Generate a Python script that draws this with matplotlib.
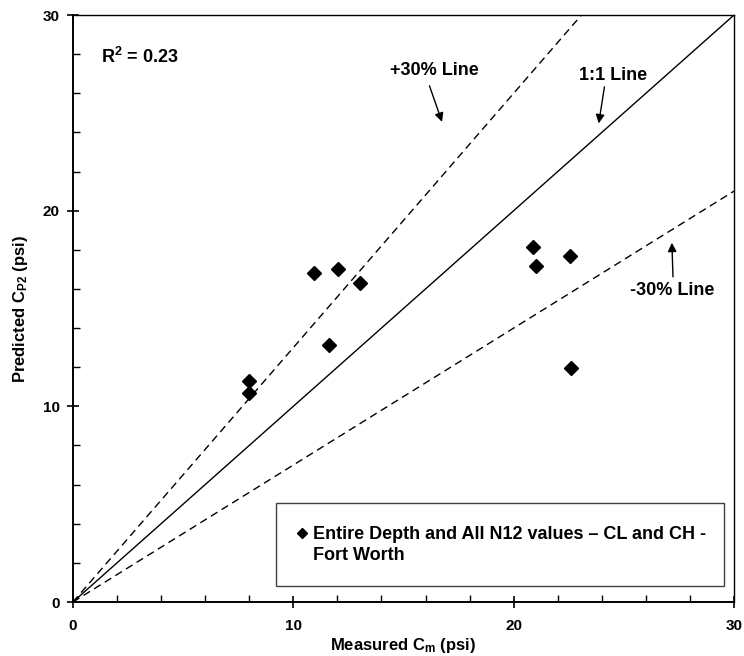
import matplotlib.pyplot as plt
import numpy as np

plt.rcParams["font.family"] = ["Liberation Sans", "DejaVu Sans"]
plt.rcParams["font.weight"] = "bold"
plt.rcParams["mathtext.default"] = "regular"

# Measured vs predicted cohesion (psi)
measured = [8.0, 8.0, 10.95, 12.05, 13.05, 11.6, 20.87, 21.03, 22.55, 22.6]
predicted = [11.3, 10.7, 16.8, 17.0, 16.3, 13.15, 18.16, 17.18, 17.68, 11.95]

r_squared = 0.23
bound_pct = 30
axis_max = 30
series_label = "Entire Depth and All N12 values \u2013 CL and CH -\nFort Worth"

fig = plt.figure(figsize=(7.44, 6.56), dpi=100)
ax = fig.add_axes([0.098, 0.0823, 0.8886, 0.8948])

# reference lines: 1:1 and +/-30 %
xs = np.array([0.0, axis_max])
ax.plot(xs, xs, color="black", lw=1.0, zorder=2)
ax.plot(xs, xs * (1 + bound_pct / 100), color="black", lw=1.0,
        ls=(0, (5.5, 3.5)), zorder=2)
ax.plot(xs, xs * (1 - bound_pct / 100), color="black", lw=1.0,
        ls=(0, (5.5, 3.5)), zorder=2)

ax.plot(measured, predicted, ls="none", marker="D", ms=7, color="black",
        label=series_label, zorder=3)

ax.set_xlim(0, axis_max)
ax.set_ylim(0, axis_max)
ax.set_xticks([0, 10, 20, 30])
ax.set_yticks([0, 10, 20, 30])
ax.set_xticks(np.arange(0, 31, 2), minor=True)
ax.set_yticks(np.arange(0, 31, 2), minor=True)
ax.tick_params(which="major", direction="inout", length=9, width=1.2,
               labelsize=11, pad=8)
ax.tick_params(axis="y", which="major", pad=5)
ax.tick_params(which="minor", direction="in", length=5, width=1.0)
for lab in ax.get_xticklabels() + ax.get_yticklabels():
    lab.set_fontweight("bold")
for side in ["left", "bottom"]:
    ax.spines[side].set_linewidth(1.4)
for side in ["top", "right"]:
    ax.spines[side].set_linewidth(1.0)

ax.set_xlabel("Measured C$_{m}$ (psi)", fontsize=12, fontweight="bold",
              labelpad=2)
ax.set_ylabel("Predicted C$_{P2}$ (psi)", fontsize=12, fontweight="bold",
              labelpad=9)

ax.text(1.29, 27.85, f"R$^{{2}}$ = {r_squared:.2f}", fontsize=13,
        fontweight="bold", va="center", ha="left")

arrow = dict(arrowstyle="-|>", color="black", lw=1.0, mutation_scale=13,
             shrinkA=0, shrinkB=0)
ax.text(16.4, 27.18, "+30% Line", fontsize=13, fontweight="bold",
        ha="center", va="center")
ax.annotate("", xy=(16.75, 24.54), xytext=(16.18, 26.38), arrowprops=arrow)
ax.text(24.53, 26.93, "1:1 Line", fontsize=13, fontweight="bold",
        ha="center", va="center")
ax.annotate("", xy=(23.86, 24.46), xytext=(24.12, 26.33), arrowprops=arrow)
ax.text(27.2, 15.91, "-30% Line", fontsize=13, fontweight="bold",
        ha="center", va="center")
ax.annotate("", xy=(27.18, 18.36), xytext=(27.23, 16.62), arrowprops=arrow)

leg = ax.legend(loc="lower left", bbox_to_anchor=(0.307, 0.027, 0.678, 0.143),
                mode="expand", fancybox=False, framealpha=1, borderpad=1.25,
                handlelength=0.4, handletextpad=0.4, markerscale=0.8,
                prop={"size": 13, "weight": "bold"}, borderaxespad=0)
leg.get_frame().set_edgecolor("#404040")
leg.get_frame().set_linewidth(1.0)
leg.get_texts()[0].set_linespacing(1.3)
# keep the marker level with the first line of the label
handle = leg.legend_handles[0]
handle.set_ydata(np.asarray(handle.get_ydata()) + 8.5)

fig.savefig("out.png", dpi=100)
